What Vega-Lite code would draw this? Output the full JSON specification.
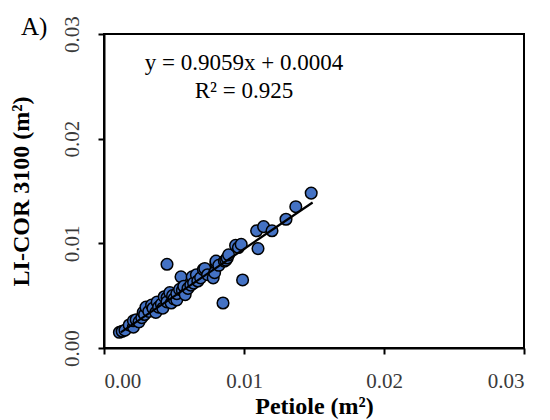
{
  "$schema": "https://vega.github.io/schema/vega-lite/v6.json",
  "width": 420,
  "height": 314,
  "autosize": {"type": "none"},
  "padding": {"left": 104, "top": 34, "right": 26, "bottom": 72},
  "background": "white",
  "config": {
    "font": "Liberation Serif",
    "view": {"stroke": "black", "strokeWidth": 2},
    "axis": {
      "grid": false,
      "domainColor": "black",
      "domainWidth": 2,
      "tickColor": "black",
      "tickWidth": 2,
      "tickSize": 6,
      "labelFont": "Liberation Serif",
      "labelFontSize": 21,
      "labelColor": "#3a3a3a",
      "titleFont": "Liberation Serif",
      "titleFontSize": 24,
      "titleFontWeight": "bold",
      "titleColor": "black"
    }
  },
  "title": {
    "text": "A)",
    "anchor": "start",
    "frame": "group",
    "font": "Liberation Serif",
    "fontSize": 25,
    "fontWeight": "normal",
    "color": "black",
    "baseline": "alphabetic",
    "dx": -83,
    "dy": 43,
    "offset": -1
  },
  "datasets": {
    "points": [
      {"petiole": 0.0011, "licor": 0.0015},
      {"petiole": 0.0013, "licor": 0.0016},
      {"petiole": 0.0015, "licor": 0.0017},
      {"petiole": 0.0018, "licor": 0.0022},
      {"petiole": 0.0021, "licor": 0.0020},
      {"petiole": 0.0021, "licor": 0.0026},
      {"petiole": 0.0023, "licor": 0.0027},
      {"petiole": 0.0025, "licor": 0.0025},
      {"petiole": 0.0027, "licor": 0.0029},
      {"petiole": 0.0028, "licor": 0.0034},
      {"petiole": 0.0029, "licor": 0.0032},
      {"petiole": 0.0030, "licor": 0.0039},
      {"petiole": 0.0032, "licor": 0.0035},
      {"petiole": 0.0034, "licor": 0.0041},
      {"petiole": 0.0035, "licor": 0.0038},
      {"petiole": 0.0037, "licor": 0.0034},
      {"petiole": 0.0038, "licor": 0.0044},
      {"petiole": 0.0039, "licor": 0.0039},
      {"petiole": 0.0041, "licor": 0.0042},
      {"petiole": 0.0042, "licor": 0.0038},
      {"petiole": 0.0043, "licor": 0.0049},
      {"petiole": 0.0045, "licor": 0.0048},
      {"petiole": 0.0045, "licor": 0.0044},
      {"petiole": 0.0047, "licor": 0.0053},
      {"petiole": 0.0048, "licor": 0.0043},
      {"petiole": 0.0049, "licor": 0.0050},
      {"petiole": 0.0050, "licor": 0.0047},
      {"petiole": 0.0052, "licor": 0.0046},
      {"petiole": 0.0052, "licor": 0.0052},
      {"petiole": 0.0054, "licor": 0.0056},
      {"petiole": 0.0055, "licor": 0.0068},
      {"petiole": 0.0056, "licor": 0.0055},
      {"petiole": 0.0057, "licor": 0.0059},
      {"petiole": 0.0058, "licor": 0.0051},
      {"petiole": 0.0060, "licor": 0.0057},
      {"petiole": 0.0062, "licor": 0.0060},
      {"petiole": 0.0063, "licor": 0.0068},
      {"petiole": 0.0064, "licor": 0.0062},
      {"petiole": 0.0066, "licor": 0.0070},
      {"petiole": 0.0067, "licor": 0.0064},
      {"petiole": 0.0069, "licor": 0.0067},
      {"petiole": 0.0071, "licor": 0.0075},
      {"petiole": 0.0072, "licor": 0.0076},
      {"petiole": 0.0074, "licor": 0.0070},
      {"petiole": 0.0078, "licor": 0.0067},
      {"petiole": 0.0079, "licor": 0.0072},
      {"petiole": 0.0080, "licor": 0.0081},
      {"petiole": 0.0080, "licor": 0.0083},
      {"petiole": 0.0082, "licor": 0.0079},
      {"petiole": 0.0086, "licor": 0.0083},
      {"petiole": 0.0087, "licor": 0.0084},
      {"petiole": 0.0088, "licor": 0.0086},
      {"petiole": 0.0089, "licor": 0.0089},
      {"petiole": 0.0094, "licor": 0.0098},
      {"petiole": 0.0096, "licor": 0.0096},
      {"petiole": 0.0098, "licor": 0.0099},
      {"petiole": 0.0109, "licor": 0.0112},
      {"petiole": 0.0110, "licor": 0.0095},
      {"petiole": 0.0114, "licor": 0.0116},
      {"petiole": 0.0120, "licor": 0.0112},
      {"petiole": 0.0130, "licor": 0.0123},
      {"petiole": 0.0137, "licor": 0.0135},
      {"petiole": 0.0148, "licor": 0.0148},
      {"petiole": 0.0045, "licor": 0.0080},
      {"petiole": 0.0085, "licor": 0.0043},
      {"petiole": 0.0099, "licor": 0.0065}
    ],
    "fit": [
      {"petiole": 0.0012, "licor": 0.00149},
      {"petiole": 0.0149, "licor": 0.01390}
    ],
    "labels": [
      {"petiole": 0.0100, "licor": 0.0272, "text": "y = 0.9059x + 0.0004"},
      {"petiole": 0.0100, "licor": 0.0246, "text": "R² = 0.925"}
    ]
  },
  "layer": [
    {
      "data": {"name": "points"},
      "mark": {"type": "point", "shape": "circle", "filled": true, "fill": "#4472C4", "stroke": "black", "strokeWidth": 1.5, "size": 135, "opacity": 1},
      "encoding": {
        "x": {
          "field": "petiole", "type": "quantitative",
          "scale": {"domain": [0, 0.03], "nice": false, "zero": false},
          "axis": {"values": [0, 0.01, 0.02, 0.03], "format": ".2f", "title": "Petiole (m²)", "labelPadding": 16, "titlePadding": 3}
        },
        "y": {
          "field": "licor", "type": "quantitative",
          "scale": {"domain": [0, 0.03], "nice": false, "zero": false},
          "axis": {"values": [0, 0.01, 0.02, 0.03], "format": ".2f", "title": "LI-COR 3100 (m²)", "labelAngle": -90, "labelAlign": "center", "labelBaseline": "bottom", "labelPadding": 16, "titlePadding": 28}
        }
      }
    },
    {
      "data": {"name": "fit"},
      "mark": {"type": "line", "color": "black", "strokeWidth": 2.2},
      "encoding": {
        "x": {"field": "petiole", "type": "quantitative"},
        "y": {"field": "licor", "type": "quantitative"}
      }
    },
    {
      "data": {"name": "labels"},
      "mark": {"type": "text", "font": "Liberation Serif", "fontSize": 23, "color": "black", "align": "center", "baseline": "middle"},
      "encoding": {
        "x": {"field": "petiole", "type": "quantitative"},
        "y": {"field": "licor", "type": "quantitative"},
        "text": {"field": "text"}
      }
    }
  ]
}
